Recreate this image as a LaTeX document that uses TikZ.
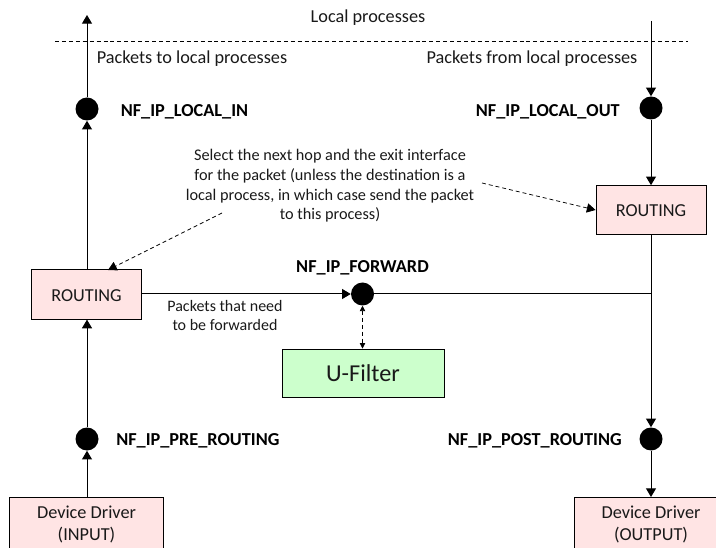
\documentclass[tikz,border=0pt]{standalone}
\usepackage{fontspec}
\setmainfont{Carlito}
\usetikzlibrary{arrows.meta}
\definecolor{pinkfill}{RGB}{255,228,228}
\definecolor{greenfill}{RGB}{204,255,204}
\definecolor{txt}{RGB}{25,25,25}
\tikzset{
 px/.style={x=0.75pt,y=-0.75pt},
 conn/.style={draw=black,line width=0.75pt,-{Triangle[length=6.5pt,width=7.5pt]}},
 dconn/.style={draw=black,line width=0.55pt,dash pattern=on 3pt off 2.2pt,-{Triangle[length=6.5pt,width=7pt]}},
 hook/.style={circle,fill=black,minimum size=17.25pt,inner sep=0pt},
 pinkbox/.style={draw=black,fill=pinkfill,line width=0.7pt,align=center,text=txt,font=\fontsize{13.7pt}{16.5pt}\selectfont,inner sep=0pt},
 lbl/.style={font=\fontsize{13.7pt}{16.5pt}\selectfont,text=txt,align=center,inner sep=0pt},
 smalllbl/.style={font=\fontsize{12.2pt}{14.7pt}\selectfont,text=txt,align=center,inner sep=0pt},
 hooklbl/.style={font=\bfseries\fontsize{13.7pt}{16pt}\selectfont,inner sep=0pt},
}
\begin{document}
\begin{tikzpicture}[px]
\useasboundingbox (0,0) rectangle (716,548);
\node[lbl] (title) at (368,17.5) {Local processes};
\coordinate (dl) at (55,41); \coordinate (dr) at (688,41);
\draw[line width=0.55pt,dash pattern=on 3pt off 2.2pt] (dl) -- (dr);
\node[lbl] (tolocal) at (192,58.5) {Packets to local processes};
\node[lbl] (fromlocal) at (532,58.5) {Packets from local processes};
\node[hook] (in) at (87,109) {};
\node[hook] (out) at (651,108) {};
\node[hook] (fwd) at (362.5,294) {};
\node[hook] (pre) at (87,439) {};
\node[hook] (post) at (651,439) {};
\node[hooklbl,anchor=west] (lin) at (120.5,111.5) {NF\_IP\_LOCAL\_IN};
\node[hooklbl,anchor=east] (lout) at (620,111.5) {NF\_IP\_LOCAL\_OUT};
\node[hooklbl] (lfwd) at (362.5,268) {NF\_IP\_FORWARD};
\node[hooklbl,anchor=west] (lpre) at (116,441) {NF\_IP\_PRE\_ROUTING};
\node[hooklbl,anchor=east] (lpost) at (622,441) {NF\_IP\_POST\_ROUTING};
\node[pinkbox,minimum width=82.5pt,minimum height=37pt] (rl) at (86.5,294.5) {};
\node[pinkbox,minimum width=82.5pt,minimum height=36.5pt] (rr) at (651,210) {};
\node[lbl] (rlt) at (86.5,295.5) {ROUTING};
\node[lbl] (rrt) at (651,211) {ROUTING};
\node[draw=black,fill=greenfill,line width=0.7pt,text=txt,font=\fontsize{18.2pt}{20pt}\selectfont,minimum width=121.5pt,minimum height=36pt,inner sep=0pt] (uf) at (363,373) {U-Filter};
\node[pinkbox,minimum width=115pt,minimum height=48pt,anchor=north] (dd1) at (86.5,497) {};
\node[pinkbox,minimum width=115pt,minimum height=48pt,anchor=north] (dd2) at (651,497) {};
\node[lbl,anchor=base] (dd1a) at (86.5,518) {Device Driver};
\node[lbl,anchor=base] (dd1b) at (86.5,540) {(INPUT)};
\node[lbl,anchor=base] (dd2a) at (651,518) {Device Driver};
\node[lbl,anchor=base] (dd2b) at (651,540) {(OUTPUT)};
\node[smalllbl] (note) at (330,186) {Select the next hop and the exit interface\\for the packet (unless the destination is a\\local process, in which case send the packet\\to this process)};
\node[smalllbl,font=\fontsize{12pt}{14.4pt}\selectfont] (need) at (225,315.5) {Packets that need\\to be forwarded};
\coordinate (topl) at (86,15);
\coordinate (topr) at (651,21);
\coordinate (junc) at (651,294);
\coordinate (ds1) at (222,213);
\coordinate (ds2) at (482,183);
\draw[conn] (in) -- (in|-topl);
\draw[conn] (rl.north-|in) -- (in);
\draw[conn] (pre) -- (rl.south-|pre);
\draw[conn] (dd1.north-|pre) -- (pre);
\draw[conn] (topr) -- (out);
\draw[conn] (out) -- (rr);
\draw[conn] (rr) -- (post);
\draw[conn] (post) -- (dd2);
\draw[conn] (rl.east|-fwd) -- (fwd);
\draw[line width=0.75pt] (fwd) -- (junc);
\draw[dconn,{Triangle[length=4pt,width=4pt]}-{Triangle[length=4pt,width=4pt]}] (fwd) -- (fwd|-uf.north);
\draw[dconn] (ds1) -- (108,270);
\draw[dconn] (ds2) -- (rr.west);
\end{tikzpicture}
\end{document}
